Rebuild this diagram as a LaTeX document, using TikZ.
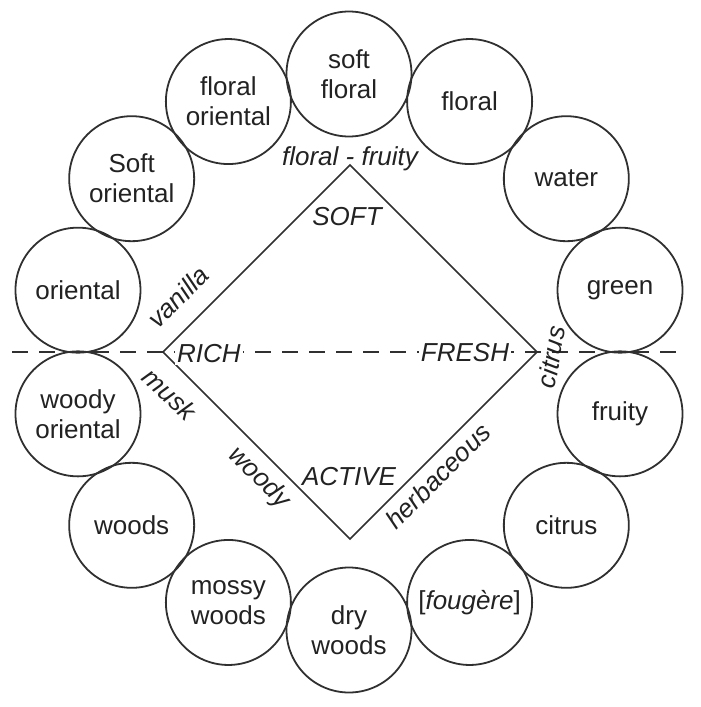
\documentclass[tikz,border=0pt]{standalone}
\usepackage{fontspec}
\setmainfont{Liberation Sans}
\usepackage{xcolor}
\definecolor{fwline}{HTML}{303030}
\definecolor{fwtext}{HTML}{222222}
\usetikzlibrary{positioning,calc}
\tikzset{
  fwcircle/.style={draw=fwline,line width=0.9pt,circle,minimum size=62.5pt,inner sep=0pt,align=center,text=fwtext,font=\fontsize{13}{15}\selectfont},
  fwedge/.style={draw=fwline,line width=0.8pt},
  fwaxis/.style={draw=fwline,line width=0.9pt,dash pattern=on 8pt off 5.5pt},
  fwlabel/.style={text=fwtext,font=\fontsize{13}{15}\selectfont\itshape,inner sep=1pt},
}

\begin{document}
\begin{tikzpicture}[x=0.5pt,y=-0.5pt]
\useasboundingbox (0,0) rectangle (701,707);
\coordinate (hub) at (349,352);
\coordinate (axisL) at (12,352);\coordinate (axisR) at (684,352);
\draw[fwaxis](axisL)--(axisR);

% ring of families
\foreach \k/\nm/\txt in {0/softfloral/{soft\\floral},1/floral/{floral},2/water/{water},3/green/{green},
  4/fruity/{fruity},5/citrus/{citrus},6/fougere/{[\textit{foug\`ere}]},7/drywoods/{dry\\woods},
  8/mossywoods/{mossy\\woods},9/woods/{woods},10/woodyoriental/{woody\\oriental},11/oriental/{oriental},
  12/softoriental/{Soft\\oriental},13/floraloriental/{floral\\oriental}}
  \node[fwcircle] (\nm) at ($(hub)+({-90+\k*360/14}:278)$) {\txt};

% diamond
\coordinate (apexS) at (350,165);\coordinate (apexF) at (537,352);
\coordinate (apexA) at (350,539);\coordinate (apexR) at (163,352);
\draw[fwedge](apexS)--(apexF)--(apexA)--(apexR)--cycle;

\node[fwlabel] (ff) at (350,159) {floral - fruity};
\node[fwlabel] (soft) at (347,217) {SOFT};
\node[fwlabel,fill=white] (rich) at (209,354) {RICH};
\node[fwlabel,fill=white] (fresh) at (465,353) {FRESH};
\node[fwlabel] (active) at (349,477) {ACTIVE};
\node[fwlabel,rotate=45] (vanilla) at (178,297) {vanilla};
\node[fwlabel,rotate=-43] (musk) at (170,394) {musk};
\node[fwlabel,rotate=-45] (woody) at (259,478) {woody};
\node[fwlabel,rotate=45] (herb) at (438,476) {herbaceous};
\node[fwlabel,rotate=80] (cit) at (551,357) {citrus};
\end{tikzpicture}
\end{document}
